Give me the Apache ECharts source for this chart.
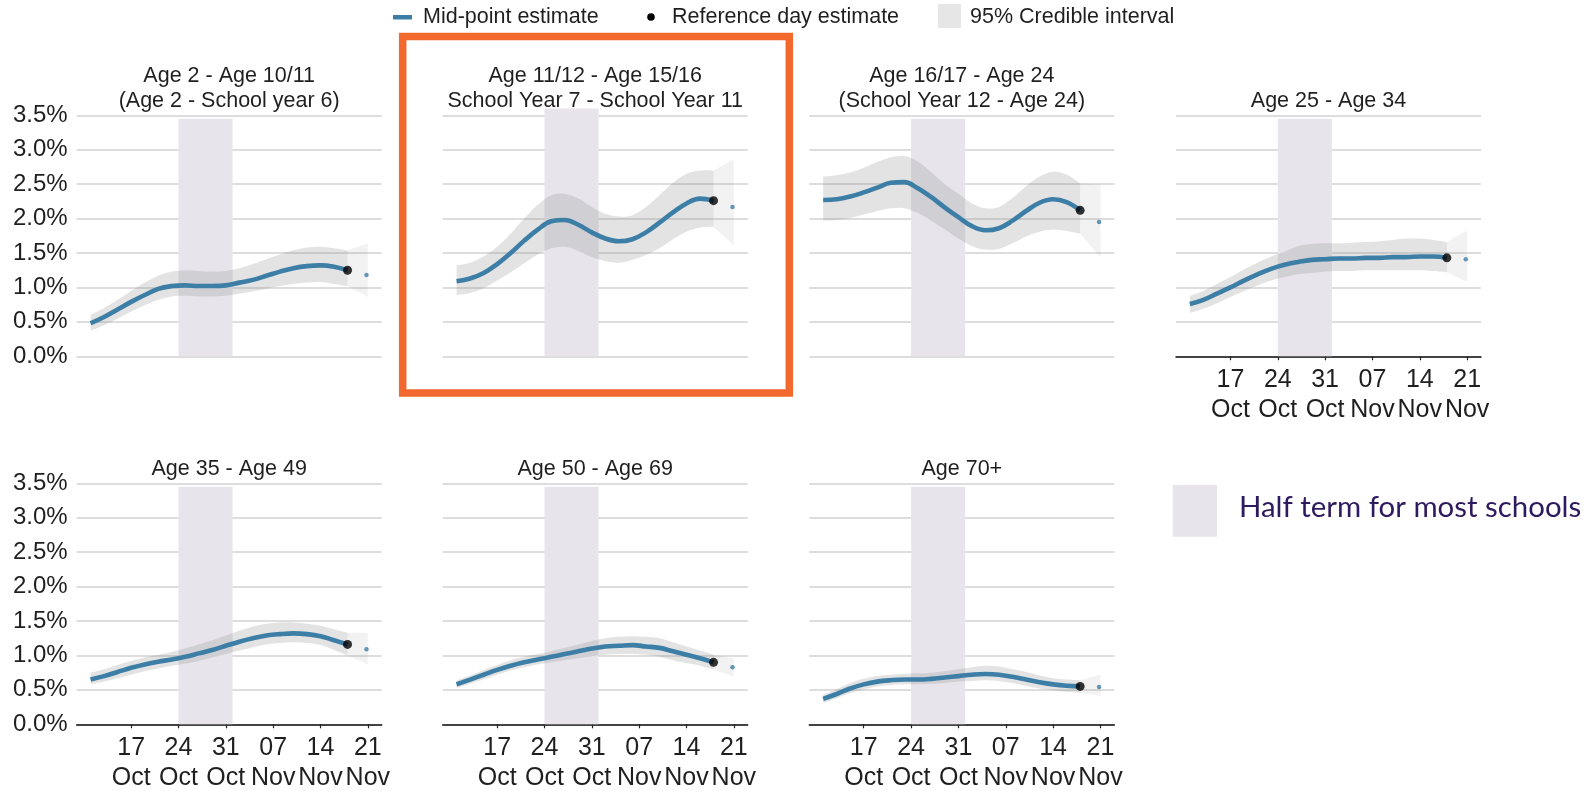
<!DOCTYPE html>
<html>
<head>
<meta charset="utf-8">
<script src="https://cdn.jsdelivr.net/npm/echarts@6/dist/echarts.min.js"></script>
<style>
  html, body { margin: 0; padding: 0; background: #ffffff; }
  #chart { width: 1596px; height: 791px; }
</style>
</head>
<body>
<div id="chart"></div>
<script>
// Day numbers: October d -> d, November d -> 31 + d
const sampleDays = [11, 13, 15, 17, 19, 21, 23, 25, 27, 29, 31, 33, 35, 37, 39, 41, 43, 45, 47, 49];
const referenceDay = 49;           // 18 Nov
const extensionDays = [49, 52];    // 18 Nov -> 21 Nov
const projectionDay = 51.8;
const halfTermDays = [24, 32];     // 24 Oct -> 1 Nov
const tickDays = [17, 24, 31, 38, 45, 52];
const tickLabels = ['17\nOct', '24\nOct', '31\nOct', '07\nNov', '14\nNov', '21\nNov'];

const panelTitles = [
  'Age 2 - Age 10/11\n(Age 2 - School year 6)',
  'Age 11/12 - Age 15/16\nSchool Year 7 - School Year 11',
  'Age 16/17 - Age 24\n(School Year 12 - Age 24)',
  'Age 25 - Age 34',
  'Age 35 - Age 49',
  'Age 50 - Age 69',
  'Age 70+'
];

// Positivity estimates (%), mid-point and 95% credible interval
const midAge2to11  = [0.48, 0.57, 0.68, 0.79, 0.89, 0.98, 1.02, 1.03, 1.02, 1.02, 1.03, 1.07, 1.11, 1.17, 1.23, 1.28, 1.31, 1.32, 1.30, 1.25];
const lowAge2to11  = [0.37, 0.45, 0.55, 0.65, 0.74, 0.82, 0.87, 0.88, 0.87, 0.87, 0.88, 0.91, 0.94, 0.98, 1.02, 1.05, 1.07, 1.08, 1.05, 1.02];
const highAge2to11 = [0.60, 0.70, 0.82, 0.95, 1.07, 1.17, 1.23, 1.25, 1.24, 1.23, 1.24, 1.28, 1.34, 1.41, 1.48, 1.54, 1.58, 1.59, 1.57, 1.54];
const extLowAge2to11 = [1.02, 0.86];
const extHighAge2to11 = [1.54, 1.64];
const projAge2to11 = 1.18;

const midAge11to16  = [1.09, 1.13, 1.21, 1.34, 1.50, 1.68, 1.84, 1.96, 1.98, 1.91, 1.80, 1.71, 1.67, 1.70, 1.80, 1.94, 2.09, 2.22, 2.29, 2.26];
const lowAge11to16  = [0.89, 0.92, 0.99, 1.10, 1.22, 1.35, 1.48, 1.57, 1.59, 1.53, 1.44, 1.38, 1.36, 1.40, 1.47, 1.57, 1.70, 1.81, 1.87, 1.88];
const highAge11to16 = [1.32, 1.36, 1.45, 1.59, 1.78, 2.00, 2.20, 2.34, 2.36, 2.29, 2.17, 2.07, 2.03, 2.05, 2.17, 2.34, 2.52, 2.65, 2.70, 2.70];
const extLowAge11to16 = [1.88, 1.61];
const extHighAge11to16 = [2.70, 2.86];
const projAge11to16 = 2.17;

const midAge16to24  = [2.27, 2.28, 2.32, 2.38, 2.45, 2.52, 2.53, 2.44, 2.31, 2.16, 2.02, 1.89, 1.83, 1.86, 1.97, 2.11, 2.23, 2.28, 2.24, 2.12];
const lowAge16to24  = [1.97, 1.98, 2.01, 2.06, 2.11, 2.15, 2.15, 2.08, 1.97, 1.84, 1.71, 1.60, 1.55, 1.56, 1.64, 1.74, 1.81, 1.84, 1.82, 1.78];
const highAge16to24 = [2.61, 2.63, 2.67, 2.74, 2.82, 2.89, 2.91, 2.83, 2.67, 2.50, 2.36, 2.22, 2.15, 2.17, 2.30, 2.47, 2.61, 2.68, 2.64, 2.51];
const extLowAge16to24 = [1.78, 1.44];
const extHighAge16to24 = [2.51, 2.49];
const projAge16to24 = 1.95;

const midAge25to34  = [0.76, 0.82, 0.91, 1.00, 1.10, 1.19, 1.27, 1.33, 1.37, 1.40, 1.41, 1.42, 1.42, 1.43, 1.43, 1.44, 1.44, 1.45, 1.45, 1.43];
const lowAge25to34  = [0.63, 0.69, 0.77, 0.86, 0.95, 1.03, 1.10, 1.15, 1.19, 1.21, 1.23, 1.24, 1.24, 1.25, 1.25, 1.25, 1.25, 1.25, 1.24, 1.22];
const highAge25to34 = [0.88, 0.95, 1.05, 1.15, 1.26, 1.36, 1.45, 1.52, 1.60, 1.63, 1.64, 1.64, 1.65, 1.66, 1.67, 1.69, 1.71, 1.71, 1.69, 1.66];
const extLowAge25to34 = [1.22, 1.08];
const extHighAge25to34 = [1.66, 1.83];
const projAge25to34 = 1.41;

const midAge35to49  = [0.65, 0.70, 0.76, 0.82, 0.87, 0.91, 0.94, 0.98, 1.03, 1.08, 1.14, 1.20, 1.25, 1.29, 1.31, 1.32, 1.31, 1.28, 1.22, 1.16];
const lowAge35to49  = [0.58, 0.62, 0.67, 0.72, 0.77, 0.81, 0.85, 0.88, 0.92, 0.97, 1.02, 1.07, 1.12, 1.16, 1.18, 1.19, 1.18, 1.15, 1.08, 1.00];
const highAge35to49 = [0.75, 0.80, 0.86, 0.92, 0.97, 1.01, 1.05, 1.10, 1.16, 1.22, 1.29, 1.36, 1.42, 1.46, 1.48, 1.48, 1.46, 1.43, 1.38, 1.33];
const extLowAge35to49 = [1.00, 0.87];
const extHighAge35to49 = [1.33, 1.33];
const projAge35to49 = 1.09;

const midAge50to69  = [0.58, 0.65, 0.72, 0.79, 0.85, 0.90, 0.94, 0.98, 1.02, 1.06, 1.10, 1.13, 1.14, 1.15, 1.13, 1.11, 1.06, 1.01, 0.96, 0.90];
const lowAge50to69  = [0.53, 0.59, 0.65, 0.72, 0.78, 0.83, 0.87, 0.90, 0.93, 0.96, 0.99, 1.01, 1.02, 1.02, 1.01, 0.98, 0.93, 0.89, 0.85, 0.80];
const highAge50to69 = [0.64, 0.71, 0.79, 0.86, 0.93, 0.98, 1.02, 1.06, 1.11, 1.16, 1.21, 1.25, 1.27, 1.28, 1.27, 1.25, 1.19, 1.13, 1.07, 1.01];
const extLowAge50to69 = [0.80, 0.69];
const extHighAge50to69 = [1.01, 0.96];
const projAge50to69 = 0.83;

const midAge70plus  = [0.37, 0.44, 0.52, 0.58, 0.62, 0.64, 0.65, 0.65, 0.66, 0.68, 0.70, 0.72, 0.73, 0.72, 0.69, 0.65, 0.61, 0.58, 0.56, 0.55];
const lowAge70plus  = [0.31, 0.38, 0.45, 0.51, 0.55, 0.57, 0.58, 0.58, 0.59, 0.60, 0.62, 0.63, 0.64, 0.63, 0.60, 0.56, 0.52, 0.49, 0.47, 0.46];
const highAge70plus = [0.43, 0.51, 0.60, 0.66, 0.70, 0.72, 0.73, 0.74, 0.75, 0.77, 0.80, 0.83, 0.85, 0.84, 0.80, 0.76, 0.71, 0.67, 0.65, 0.64];
const extLowAge70plus = [0.46, 0.41];
const extHighAge70plus = [0.64, 0.72];
const projAge70plus = 0.54;

const panelData = [
  { mid: midAge2to11,  low: lowAge2to11,  high: highAge2to11,  extLow: extLowAge2to11,  extHigh: extHighAge2to11,  proj: projAge2to11 },
  { mid: midAge11to16, low: lowAge11to16, high: highAge11to16, extLow: extLowAge11to16, extHigh: extHighAge11to16, proj: projAge11to16 },
  { mid: midAge16to24, low: lowAge16to24, high: highAge16to24, extLow: extLowAge16to24, extHigh: extHighAge16to24, proj: projAge16to24 },
  { mid: midAge25to34, low: lowAge25to34, high: highAge25to34, extLow: extLowAge25to34, extHigh: extHighAge25to34, proj: projAge25to34 },
  { mid: midAge35to49, low: lowAge35to49, high: highAge35to49, extLow: extLowAge35to49, extHigh: extHighAge35to49, proj: projAge35to49 },
  { mid: midAge50to69, low: lowAge50to69, high: highAge50to69, extLow: extLowAge50to69, extHigh: extHighAge50to69, proj: projAge50to69 },
  { mid: midAge70plus, low: lowAge70plus, high: highAge70plus, extLow: extLowAge70plus, extHigh: extHighAge70plus, proj: projAge70plus }
];

// Panel layout (pixels)
const gridLefts = [76.7, 442.7, 809.3, 1176, 76.7, 442.7, 809.3];
const gridTops = [115.3, 115.3, 115.3, 115.3, 483.3, 483.3, 483.3];
const gridWidth = 305;
const gridHeight = 241;
const showDateAxis = [false, false, false, true, true, true, true];
const showValueLabels = [true, false, false, false, true, false, false];
const halfTermTop = [3.45, 3.6, 3.45, 3.45, 3.45, 3.45, 3.45];

const FONT = '"Liberation Sans", Arial, Helvetica, sans-serif';
const LINE_BLUE = '#3d7ea6';
const TEXT = '#1f1f1f';

// Catmull-Rom curve through pixel points, as SVG path commands (without the initial move)
function curveSegments(pts) {
  let d = '';
  for (let i = 0; i < pts.length - 1; i++) {
    const p0 = pts[Math.max(i - 1, 0)], p1 = pts[i], p2 = pts[i + 1], p3 = pts[Math.min(i + 2, pts.length - 1)];
    const c1 = [p1[0] + (p2[0] - p0[0]) / 6, p1[1] + (p2[1] - p0[1]) / 6];
    const c2 = [p2[0] - (p3[0] - p1[0]) / 6, p2[1] - (p3[1] - p1[1]) / 6];
    d += ` C${c1[0]},${c1[1]} ${c2[0]},${c2[1]} ${p2[0]},${p2[1]}`;
  }
  return d;
}

// Filled band between a lower and an upper edge
function bandRenderer(days, low, high, color, curved) {
  return function (params, api) {
    const up = days.map((d, k) => api.coord([d, high[k]]));
    const dn = days.map((d, k) => api.coord([d, low[k]])).reverse();
    let path;
    if (curved) {
      path = `M${up[0][0]},${up[0][1]}` + curveSegments(up) + ` L${dn[0][0]},${dn[0][1]}` + curveSegments(dn) + ' Z';
    } else {
      path = `M${up[0][0]},${up[0][1]}` + up.slice(1).map(p => ` L${p[0]},${p[1]}`).join('') +
             dn.map(p => ` L${p[0]},${p[1]}`).join('') + ' Z';
    }
    return { type: 'path', shape: { pathData: path }, style: { fill: color }, silent: true };
  };
}

const chart = echarts.init(document.getElementById('chart'), null, { renderer: 'canvas' });

const grids = [], xAxes = [], yAxes = [], titles = [], series = [];

panelData.forEach((p, i) => {
  grids.push({
    left: gridLefts[i], top: gridTops[i], width: gridWidth, height: gridHeight,
    outerBoundsMode: 'none', containLabel: false
  });
  xAxes.push({
    gridIndex: i, type: 'value', min: 8.95, max: 54.05,
    show: showDateAxis[i],
    splitLine: { show: false },
    axisLine: { show: true, onZero: false, lineStyle: { color: '#111', width: 1.5 } },
    axisTick: { show: true, customValues: tickDays, length: 4, lineStyle: { color: '#222', width: 1.2 } },
    axisLabel: {
      show: true, customValues: tickDays, margin: 9,
      fontFamily: FONT, fontSize: 25, lineHeight: 30, color: TEXT,
      formatter: v => tickLabels[tickDays.indexOf(Math.round(v))] || ''
    }
  });
  yAxes.push({
    gridIndex: i, type: 'value', min: 0, max: 3.5, interval: 0.5,
    axisLine: { show: false }, axisTick: { show: false },
    splitLine: { show: true, lineStyle: { color: '#d2d2d2', width: 1.5 } },
    axisLabel: {
      show: showValueLabels[i], margin: 9,
      fontFamily: FONT, fontSize: 24, color: TEXT,
      formatter: v => v.toFixed(1) + '%'
    }
  });
  const lines = panelTitles[i].split('\n').length;
  titles.push({
    text: panelTitles[i],
    left: gridLefts[i] + gridWidth / 2,
    top: gridTops[i] - 14.5 - 12.5 - (lines - 1) * 25,
    textAlign: 'center',
    padding: 0,
    textStyle: { fontFamily: FONT, fontSize: 21.5, fontWeight: 'normal', color: TEXT, lineHeight: 25 }
  });

  // half-term shading
  series.push({
    type: 'custom', name: 'half-term-' + i, xAxisIndex: i, yAxisIndex: i,
    silent: true, clip: false, z: 1,
    data: [0],
    renderItem: (params, api) => {
      const a = api.coord([halfTermDays[0], halfTermTop[i]]);
      const b = api.coord([halfTermDays[1], 0]);
      return { type: 'rect', shape: { x: a[0], y: a[1], width: b[0] - a[0], height: b[1] - a[1] }, style: { fill: '#e7e5eb' }, silent: true };
    }
  });
  // 95% credible interval up to the reference day
  series.push({
    type: 'custom', name: '95% Credible interval', xAxisIndex: i, yAxisIndex: i,
    silent: true, clip: true, z: 2,
    data: [0],
    renderItem: bandRenderer(sampleDays, p.low, p.high, 'rgba(140,140,140,0.24)', true)
  });
  // lighter interval beyond the reference day
  series.push({
    type: 'custom', name: 'interval-after-' + i, xAxisIndex: i, yAxisIndex: i,
    silent: true, clip: true, z: 2,
    data: [0],
    renderItem: bandRenderer(extensionDays, p.extLow, p.extHigh, 'rgba(140,140,140,0.11)', false)
  });
  // mid-point estimate
  series.push({
    type: 'line', name: 'Mid-point estimate', xAxisIndex: i, yAxisIndex: i,
    smooth: 0.4, symbol: 'none', silent: true, z: 3,
    lineStyle: { color: LINE_BLUE, width: 4.6, cap: 'butt' },
    data: sampleDays.map((d, k) => [d, p.mid[k]])
  });
  // reference day estimate
  series.push({
    type: 'scatter', name: 'Reference day estimate', xAxisIndex: i, yAxisIndex: i,
    symbol: 'circle', symbolSize: 9, silent: true, z: 4,
    itemStyle: { color: '#000' },
    data: [[referenceDay, p.mid[p.mid.length - 1]]]
  });
  // projected value
  series.push({
    type: 'scatter', name: 'projection-' + i, xAxisIndex: i, yAxisIndex: i,
    symbol: 'circle', symbolSize: 4.5, silent: true, z: 4,
    itemStyle: { color: LINE_BLUE },
    data: [[projectionDay, p.proj]]
  });
});

const graphics = [
  // key along the top
  { type: 'rect', shape: { x: 393, y: 15, width: 19, height: 4.5 }, style: { fill: LINE_BLUE } },
  { type: 'text', x: 423, y: 17, style: { text: 'Mid-point estimate', fontFamily: FONT, fontSize: 21.5, fill: TEXT, textVerticalAlign: 'middle' } },
  { type: 'circle', shape: { cx: 651, cy: 17, r: 3.8 }, style: { fill: '#000' } },
  { type: 'text', x: 672, y: 17, style: { text: 'Reference day estimate', fontFamily: FONT, fontSize: 21.5, fill: TEXT, textVerticalAlign: 'middle' } },
  { type: 'rect', shape: { x: 938, y: 4, width: 23, height: 24 }, style: { fill: '#e6e6e6' } },
  { type: 'text', x: 970, y: 17, style: { text: '95% Credible interval', fontFamily: FONT, fontSize: 21.5, fill: TEXT, textVerticalAlign: 'middle' } },
  // highlight frame around the secondary-school panel
  { type: 'rect', shape: { x: 402.7, y: 36.5, width: 386.6, height: 356.5 }, style: { fill: null, stroke: '#f3682c', lineWidth: 7.5 }, z: 10 },
  // half-term key
  { type: 'rect', shape: { x: 1172.7, y: 485, width: 44.3, height: 51.7 }, style: { fill: '#e7e5eb' } },
  { type: 'text', x: 1239, y: 508, style: { text: 'Half term for most schools', fontFamily: 'Lato, "Open Sans", sans-serif', fontSize: 29.4, fill: '#2e1a5e', textVerticalAlign: 'middle' } }
];

chart.setOption({
  backgroundColor: '#ffffff',
  animation: false,
  title: titles,
  grid: grids,
  xAxis: xAxes,
  yAxis: yAxes,
  series: series,
  graphic: graphics
});
</script>
</body>
</html>
